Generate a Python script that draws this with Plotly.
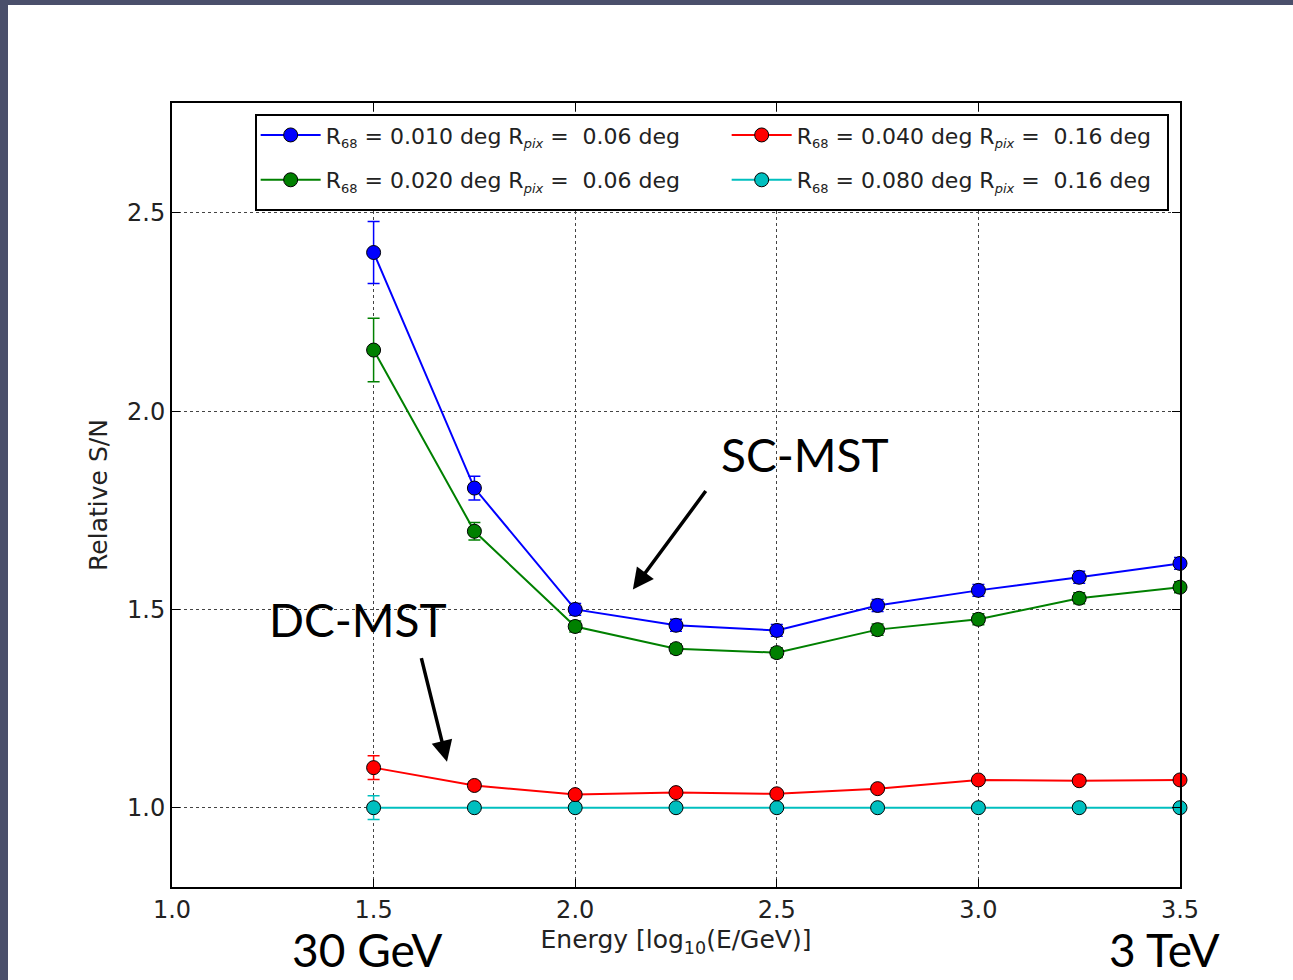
import plotly.graph_objects as go

energy = [1.5, 1.75, 2.0, 2.25, 2.5, 2.75, 3.0, 3.25, 3.5]

blue_sn = [2.40, 1.806, 1.500, 1.460, 1.447, 1.510, 1.548, 1.581, 1.616]
blue_err = [0.078, 0.030, 0.015, 0.015, 0.015, 0.015, 0.015, 0.015, 0.015]
green_sn = [2.154, 1.697, 1.457, 1.401, 1.391, 1.449, 1.475, 1.528, 1.556]
green_err = [0.080, 0.022, 0.014, 0.012, 0.012, 0.014, 0.014, 0.014, 0.014]
red_sn = [1.101, 1.056, 1.033, 1.038, 1.035, 1.048, 1.070, 1.068, 1.070]
red_err = [0.030, 0.010, 0.008, 0.008, 0.008, 0.008, 0.008, 0.008, 0.008]
cyan_sn = [1.0, 1.0, 1.0, 1.0, 1.0, 1.0, 1.0, 1.0, 1.0]
cyan_err = [0.030, 0.004, 0.004, 0.004, 0.004, 0.004, 0.004, 0.004, 0.004]

SUB = '<sub><span style="font-size:13px">{}</span></sub>'
labels = [
    "R" + SUB.format("68") + " = 0.010 deg R" + SUB.format("<i>pix</i>") + " =  0.06 deg",
    "R" + SUB.format("68") + " = 0.040 deg R" + SUB.format("<i>pix</i>") + " =  0.16 deg",
    "R" + SUB.format("68") + " = 0.020 deg R" + SUB.format("<i>pix</i>") + " =  0.06 deg",
    "R" + SUB.format("68") + " = 0.080 deg R" + SUB.format("<i>pix</i>") + " =  0.16 deg",
]
# (values, errors, colour, label, legend row)
series = [
    (blue_sn, blue_err, "#0000ff", labels[0], "legend"),
    (red_sn, red_err, "#ff0000", labels[1], "legend"),
    (green_sn, green_err, "#008000", labels[2], "legend2"),
    (cyan_sn, cyan_err, "#00bfbf", labels[3], "legend2"),
]

x_ticks = [1.0, 1.5, 2.0, 2.5, 3.0, 3.5]
y_ticks = [1.0, 1.5, 2.0, 2.5]

fig = go.Figure()
draw_order = [3, 1, 2, 0]
for i in draw_order:
    ys, es, col, name, leg = series[i]
    fig.add_trace(go.Scatter(
        x=energy, y=ys, name=name, mode="lines+markers",
        legend=leg, legendrank=i + 1,
        line=dict(color=col, width=2),
        marker=dict(color=col, size=14, line=dict(color="black", width=1)),
        error_y=dict(type="data", array=es, color=col, thickness=1.5, width=6),
        cliponaxis=False,
    ))

FONT = "DejaVu Sans"
legend_common = dict(
    orientation="h", xanchor="left", yanchor="middle",
    bgcolor="rgba(0,0,0,0)", borderwidth=0,
    entrywidth=396, entrywidthmode="pixels",
    font=dict(family=FONT, size=22, color="#222"),
    itemwidth=60,
)
fig.update_layout(
    width=1293, height=980,
    margin=dict(l=172, r=113, t=103, b=93),
    paper_bgcolor="white", plot_bgcolor="white",
    font=dict(family=FONT, size=24, color="#222"),
    showlegend=True,
    legend=dict(x=0.083, y=0.959, **legend_common),
    legend2=dict(x=0.083, y=0.9018, **legend_common),
    xaxis=dict(
        range=[1.0, 3.5], tickvals=x_ticks, ticktext=[f"{v:.1f}" for v in x_ticks],
        tickfont=dict(size=24),
        showgrid=True, gridcolor="#444", griddash="dot", gridwidth=1,
        showline=True, linecolor="black", linewidth=2, mirror="ticks",
        ticks="inside", ticklen=8, tickcolor="black",
        zeroline=False,
        title=dict(text="Energy [log<sub>10</sub>(E/GeV)]", font=dict(size=25), standoff=8),
    ),
    yaxis=dict(
        range=[0.8, 2.777], tickvals=y_ticks, ticktext=[f"{v:.1f}" for v in y_ticks],
        tickfont=dict(size=24),
        showgrid=True, gridcolor="#444", griddash="dot", gridwidth=1,
        showline=True, linecolor="black", linewidth=2, mirror="ticks",
        ticks="inside", ticklen=8, tickcolor="black",
        zeroline=False,
        title=dict(text="Relative S/N", font=dict(size=25), standoff=12),
    ),
)

# legend frame
fig.add_shape(type="rect", xref="paper", yref="paper",
              x0=(256 - 172) / 1008, x1=(1168 - 172) / 1008,
              y0=(887 - 210) / 784, y1=(887 - 115) / 784,
              fillcolor="white", line=dict(color="black", width=2), layer="above")

# slide frame strips
fig.add_shape(type="rect", xref="paper", yref="paper",
              x0=-172/1008, x1=-164/1008, y0=-93/784, y1=1 + 103/784,
              fillcolor="#4a4f6b", line=dict(width=0), layer="above")
fig.add_shape(type="rect", xref="paper", yref="paper",
              x0=-172/1008, x1=1 + 113/1008, y0=1 + 98/784, y1=1 + 103/784,
              fillcolor="#4a4f6b", line=dict(width=0), layer="above")

BIG = "Lato"
fig.add_annotation(x=2.570, y=1.891, text="SC-MST", showarrow=False,
                   font=dict(family=BIG, size=46, color="black"))
fig.add_annotation(x=1.461, y=1.475, text="DC-MST", showarrow=False,
                   font=dict(family=BIG, size=46, color="black"))
fig.add_annotation(x=2.143, y=1.55, ax=74, ay=-100, text="", showarrow=True,
                   arrowhead=2, arrowsize=1.2, arrowwidth=3.5, arrowcolor="black")
fig.add_annotation(x=1.682, y=1.116, ax=-26, ay=-105, text="", showarrow=True,
                   arrowhead=2, arrowsize=1.2, arrowwidth=3.5, arrowcolor="black")
fig.add_annotation(xref="paper", yref="paper", x=0.193, y=-0.08, text="30 GeV",
                   xanchor="center", yanchor="middle",
                   showarrow=False, font=dict(family=BIG, size=46, color="black"))
fig.add_annotation(xref="paper", yref="paper", x=0.985, y=-0.08, text="3 TeV",
                   xanchor="center", yanchor="middle",
                   showarrow=False, font=dict(family=BIG, size=46, color="black"))

fig.write_html("out.html")
